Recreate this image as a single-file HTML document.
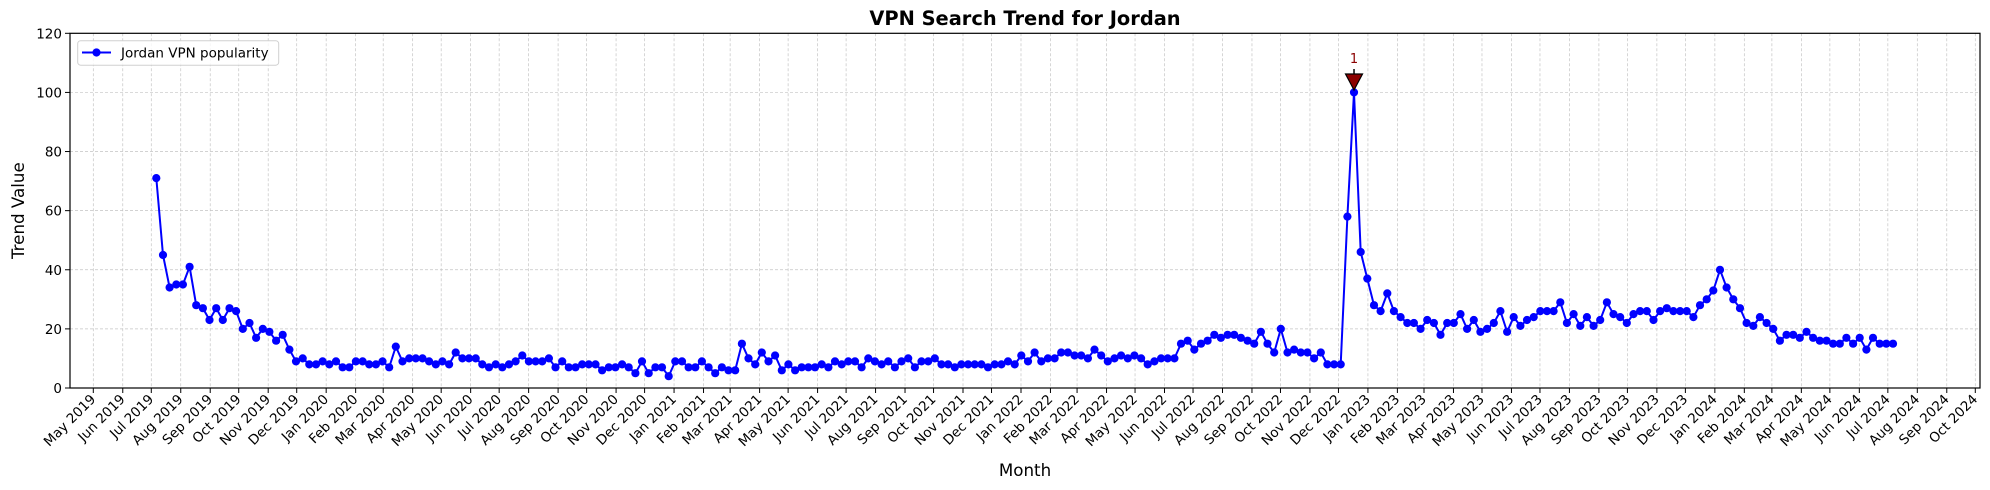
<!DOCTYPE html>
<html><head><meta charset="utf-8"><style>
html,body{margin:0;padding:0;background:#fff;}
svg{display:block;font-family:"DejaVu Sans","Liberation Sans",sans-serif;}
</style></head><body>
<svg id="s" width="1990" height="490" xmlns="http://www.w3.org/2000/svg"></svg>
<script>
const s=document.getElementById('s');
const L=70,R=1980,T=33.3,B=388;
const y=v=>B-(v)*(B-T)/120;
const dayX=d=>93.3+d*0.9505;
let h='';
h+='<rect x="0" y="0" width="1990" height="490" fill="#fff"/>';
const months=['Jan','Feb','Mar','Apr','May','Jun','Jul','Aug','Sep','Oct','Nov','Dec'];
const base=Date.UTC(2019,4,1);
let ticks=[];
for(let yr=2019,m=4;;){ticks.push([yr,m]);if(yr==2024&&m==9)break;m++;if(m==12){m=0;yr++;}}
for(const [yr,m] of ticks){
  const d=(Date.UTC(yr,m,1)-base)/86400000;const x=dayX(d);
  h+=`<line x1="${x}" y1="${T}" x2="${x}" y2="${B}" stroke="#c4c4c4" stroke-width="0.7" stroke-dasharray="3,2"/>`;
  h+=`<line x1="${x}" y1="${B}" x2="${x}" y2="${B+5}" stroke="#000" stroke-width="1"/>`;
  h+=`<text x="${x+3}" y="${B+12}" font-size="13.5" text-anchor="end" transform="rotate(-45 ${x+3} ${B+12})">${months[m]} ${yr}</text>`;
}
for(let v=0;v<=120;v+=20){
  const yy=y(v);
  if(v>0&&v<120)h+=`<line x1="${L}" y1="${yy}" x2="${R}" y2="${yy}" stroke="#c4c4c4" stroke-width="0.7" stroke-dasharray="3,2"/>`;
  h+=`<line x1="${L-5}" y1="${yy}" x2="${L}" y2="${yy}" stroke="#000" stroke-width="1"/>`;
  h+=`<text x="${L-8}" y="${yy+5}" font-size="13.5" text-anchor="end">${v}</text>`;
}
const vals=[71,45,34,35,35,41,28,27,23,27,23,27,26,20,22,17,20,19,16,18,13,9,10,8,8,9,8,9,7,7,9,9,8,8,9,7,14,9,10,10,10,9,8,9,8,12,10,10,10,8,7,8,7,8,9,11,9,9,9,10,7,9,7,7,8,8,8,6,7,7,8,7,5,9,5,7,7,4,9,9,7,7,9,7,5,7,6,6,15,10,8,12,9,11,6,8,6,7,7,7,8,7,9,8,9,9,7,10,9,8,9,7,9,10,7,9,9,10,8,8,7,8,8,8,8,7,8,8,9,8,11,9,12,9,10,10,12,12,11,11,10,13,11,9,10,11,10,11,10,8,9,10,10,10,15,16,13,15,16,18,17,18,18,17,16,15,19,15,12,20,12,13,12,12,10,12,8,8,8,58,100,46,37,28,26,32,26,24,22,22,20,23,22,18,22,22,25,20,23,19,20,22,26,19,24,21,23,24,26,26,26,29,22,25,21,24,21,23,29,25,24,22,25,26,26,23,26,27,26,26,26,24,28,30,33,40,34,30,27,22,21,24,22,20,16,18,18,17,19,17,16,16,15,15,17,15,17,13,17,15,15,15];
const dx=6.654,x0=156.3;
let p='';vals.forEach((v,i)=>{p+=(i?'L':'M')+(x0+i*dx).toFixed(1)+' '+y(v).toFixed(1);});
h+=`<path d="${p}" fill="none" stroke="#0000ff" stroke-width="2"/>`;
vals.forEach((v,i)=>{h+=`<circle cx="${(x0+i*dx).toFixed(1)}" cy="${y(v).toFixed(1)}" r="4.1" fill="#0000ff"/>`;});
const px=x0+180*dx;
h+=`<line x1="${px}" y1="69" x2="${px}" y2="75" stroke="#000" stroke-width="1.5"/>`;
h+=`<polygon points="${px-8.5},74 ${px+8.5},74 ${px},90" fill="#8b0000" stroke="#000" stroke-width="1.2"/>`;
h+=`<text x="${px}" y="63" font-size="13" fill="#8b0000" text-anchor="middle">1</text>`;
h+=`<rect x="${L}" y="${T}" width="${R-L}" height="${B-T}" fill="none" stroke="#000" stroke-width="1.2"/>`;
h+=`<rect x="77.7" y="40.7" width="201" height="24.5" rx="3" fill="#fff" fill-opacity="0.8" stroke="#d0d0d0" stroke-width="1"/>`;
h+=`<line x1="82" y1="52.5" x2="111" y2="52.5" stroke="#0000ff" stroke-width="2"/><circle cx="96.5" cy="52.5" r="4.1" fill="#0000ff"/>`;
h+=`<text x="121" y="57.5" font-size="13.5">Jordan VPN popularity</text>`;
h+=`<text x="${(L+R)/2}" y="25" font-size="19.4" font-weight="bold" text-anchor="middle">VPN Search Trend for Jordan</text>`;
h+=`<text x="${(L+R)/2}" y="476" font-size="16.7" text-anchor="middle">Month</text>`;
h+=`<text x="24" y="${(T+B)/2}" font-size="16.7" text-anchor="middle" transform="rotate(-90 24 ${(T+B)/2})">Trend Value</text>`;
s.innerHTML=h;
</script>
</body></html>
